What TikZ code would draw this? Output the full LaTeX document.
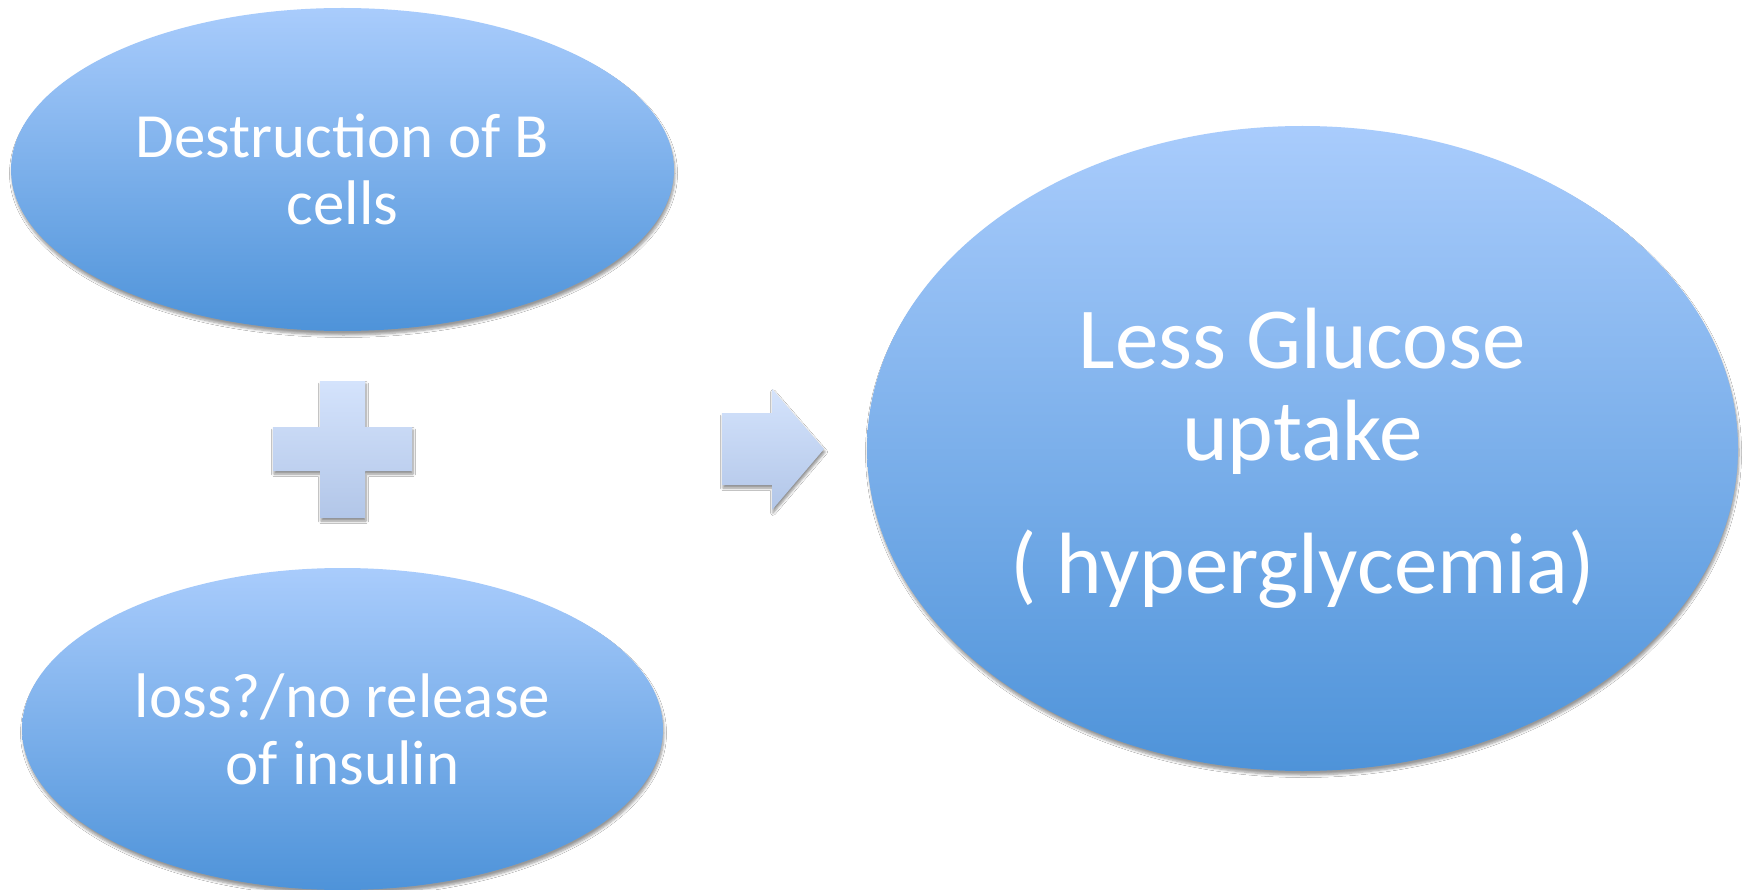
\documentclass[tikz,border=0pt]{standalone}
\usepackage{fontspec}
\setmainfont{Carlito}
\usetikzlibrary{shapes.geometric,shadows.blur}
\definecolor{ovtop}{RGB}{169,204,252}
\definecolor{ovbot}{RGB}{78,147,217}
\definecolor{sgtop}{RGB}{212,227,252}
\definecolor{sgbot}{RGB}{178,198,232}
\tikzset{
  oval/.style={ellipse, inner sep=0pt, top color=ovtop, bottom color=ovbot,
    text=white, align=center,
    blur shadow={shadow xshift=1pt, shadow yshift=-4pt, shadow blur radius=2.5pt, shadow blur steps=6, shadow opacity=40}},
  small/.style={font=\fontsize{63}{67}\selectfont},
  big/.style={font=\fontsize{87}{92}\selectfont},
  sign/.style={top color=sgtop, bottom color=sgbot, draw=none,
    blur shadow={shadow xshift=1pt, shadow yshift=-3pt, shadow blur radius=2.5pt, shadow blur steps=5, shadow opacity=45}}
}
\begin{document}
\begin{tikzpicture}[x=1pt,y=-1pt]
\useasboundingbox (0,0) rectangle (1747,890);
\fill[white] (0,0) rectangle (1747,890);
\node[oval, small, minimum width=663pt, minimum height=323pt] (destr) at (342.5,169.5) {Destruction of B\\cells};
\node[oval, small, minimum width=641pt, minimum height=322pt] (loss) at (342.5,729) {loss?/no release\\of insulin};
\node[oval, minimum width=871pt, minimum height=645pt] (less) at (1302.5,448.5) {};
\node[big, text=white, align=center, inner sep=0pt] (lesstxt) at ([yshift=-10pt]less.center) {Less Glucose\\uptake\\[41pt]( hyperglycemia)};
\path[sign] (320,381) -- (365,381) -- (365,427) -- (412,427) -- (412,471) -- (365,471) -- (365,518) -- (320,518) -- (320,471) -- (273,471) -- (273,427) -- (320,427) -- cycle;
\path[sign] (722,413) -- (772,413) -- (772,389) -- (824,449) -- (772,510) -- (772,485) -- (722,485) -- cycle;
\end{tikzpicture}
\end{document}
